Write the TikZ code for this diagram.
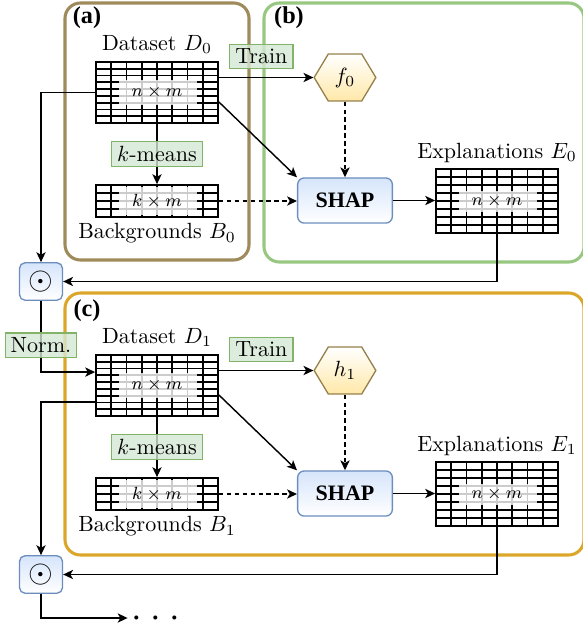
\documentclass[tikz,border=0pt]{standalone}
\usepackage{amsmath}
\usepackage{fontspec}
\newfontfamily\boldserif{Liberation Serif}
\usetikzlibrary{positioning,fit,arrows.meta,shapes.symbols}

\definecolor{panelA}{RGB}{158,138,90}
\definecolor{panelB}{RGB}{151,199,128}
\definecolor{panelC}{RGB}{219,167,42}
\definecolor{tagfill}{RGB}{213,232,212}
\definecolor{tagline}{RGB}{130,179,102}
\definecolor{shapfill}{RGB}{214,229,251}
\definecolor{shapline}{RGB}{108,142,191}
\definecolor{modelfill}{RGB}{255,232,168}
\definecolor{modelline}{RGB}{150,128,75}

% table of cells: name, left, top, bottom, rows, faded top, faded bottom, text
\newcommand{\cellgrid}[8]{%
  \pgfmathsetmacro\rowh{(#4-#3)/#5}
  \pgfmathtruncatemacro\rowl{#5-1}
  \foreach \k in {1,...,7}
    \draw[cell] ({#2+\k*15.25},#3) -- ({#2+\k*15.25},#4);
  \foreach \r in {1,...,\rowl}
    \draw[cell] (#2,{#3+\r*\rowh}) -- ({#2+122},{#3+\r*\rowh});
  \fill[white,opacity=0.8] ({#2+23},#6) rectangle ({#2+101},#7);
  \node[cell,draw,inner sep=0pt,fit={(#2,#3) ({#2+122},#4)}] (#1) {};
  \node[font=\footnotesize] at (#1.center) {#8};
}

\begin{document}
\begin{tikzpicture}[x=0.454pt,y=-0.454pt,
  panel/.style={rounded corners=7pt,line width=1.4pt},
  cell/.style={line width=0.8pt},
  tag/.style={draw=tagline,fill=tagfill,fill opacity=0.8,text opacity=1,line width=0.5pt,inner xsep=2.5pt,inner ysep=2pt},
  shapbox/.style={draw=shapline,top color=shapfill,bottom color=white,rounded corners=3pt,line width=0.6pt,minimum width=43pt,minimum height=20.5pt,font=\boldserif\bfseries},
  model/.style={signal,signal to=west and east,signal pointer angle=118,draw=modelline,top color=white,bottom color=modelfill,line width=0.6pt,minimum width=28pt,minimum height=21.3pt,inner sep=0pt},
  opbox/.style={draw=shapline,top color=shapfill,bottom color=white,rounded corners=2.5pt,line width=0.6pt,minimum width=19.5pt,minimum height=17pt,inner sep=0pt,font=\Large},
  flow/.style={-{Stealth[length=4.5pt,width=4.2pt,inset=1.2pt]},line width=0.65pt},
  dashflow/.style={flow,dash pattern=on 2pt off 1.6pt},
  panelname/.style={font=\boldserif\bfseries\fontsize{11}{13}\selectfont}]

\useasboundingbox (0,0) rectangle (582,630);

% panels
\draw[panel,panelA] (65,3) rectangle (249,260);
\draw[panel,panelB] (264,3) rectangle (584,262);
\draw[panel,panelC] (65,293) rectangle (584,555);
\node[panelname] (a) at (87,18) {(a)};
\node[panelname] (b) at (289,18) {(b)};
\node[panelname] (c) at (87,311) {(c)};

% first round
\cellgrid{D0}{96}{62}{123}{9}{80}{105}{$n\times m$}
\cellgrid{B0}{96}{185}{217}{4}{187}{215}{$k\times m$}
\cellgrid{E0}{436}{169}{233}{8}{190.5}{211.5}{$n\times m$}
\node[above=0pt of D0] (D0cap) {Dataset $D_0$};
\node[below=-1pt of B0] (B0cap) {Backgrounds $B_0$};
\node[above=-1pt of E0] (E0cap) {Explanations $E_0$};
\node[model] (f0) at (345,77.5) {$f_0$};
\node[shapbox] (S0) at (345,200.5) {SHAP};
\node[opbox] (odot0) at (41,281.5) {$\odot$};

\draw[flow] (f0.west -| D0.east) -- node[tag,pos=0.45,above=4pt] {Train} (f0.west);
\draw[flow] ([yshift=-4.3pt]D0.east) -- (S0.north west);
\draw[flow] (D0.south) -- node[tag] {$k$-means} (B0.north);
\draw[dashflow] (B0.east) -- (B0.east -| S0.west);
\draw[dashflow] (f0.south) -- (S0.north);
\draw[flow] (S0.east) -- (S0.east -| E0.west);
\draw[flow] (D0.west) -| (odot0.north);
\draw[flow] (E0.south) |- (odot0.east);

% second round
\cellgrid{D1}{96}{355}{416}{9}{373}{398}{$n\times m$}
\cellgrid{B1}{96}{478}{510}{4}{480}{508}{$k\times m$}
\cellgrid{E1}{436}{462}{526}{8}{483.5}{504.5}{$n\times m$}
\node[above=0pt of D1] (D1cap) {Dataset $D_1$};
\node[below=-1pt of B1] (B1cap) {Backgrounds $B_1$};
\node[above=-1pt of E1] (E1cap) {Explanations $E_1$};
\node[model] (h1) at (345,370.5) {$h_1$};
\node[shapbox] (S1) at (345,493.5) {SHAP};
\node[opbox] (odot1) at (41,574.5) {$\odot$};

\draw[flow] (odot0.south) |- node[tag,pos=0.31] {Norm.} ([yshift=6.1pt]D1.west);
\draw[flow] (h1.west -| D1.east) -- node[tag,pos=0.45,above=4pt] {Train} (h1.west);
\draw[flow] ([yshift=-4.3pt]D1.east) -- (S1.north west);
\draw[flow] (D1.south) -- node[tag] {$k$-means} (B1.north);
\draw[dashflow] (B1.east) -- (B1.east -| S1.west);
\draw[dashflow] (h1.south) -- (S1.north);
\draw[flow] (S1.east) -- (S1.east -| E1.west);
\draw[flow] ([yshift=-7.4pt]D1.west) -| (odot1.north);
\draw[flow] (E1.south) |- (odot1.east);

\node[font=\LARGE,inner xsep=1.7pt,inner ysep=0pt,text height=8.6pt,text depth=0pt] (more) at (156,618) {${\cdot}\hspace{3.8pt}{\cdot}\hspace{3.8pt}{\cdot}$};
\draw[flow] (odot1.south) |- (more.west);

\end{tikzpicture}
\end{document}
